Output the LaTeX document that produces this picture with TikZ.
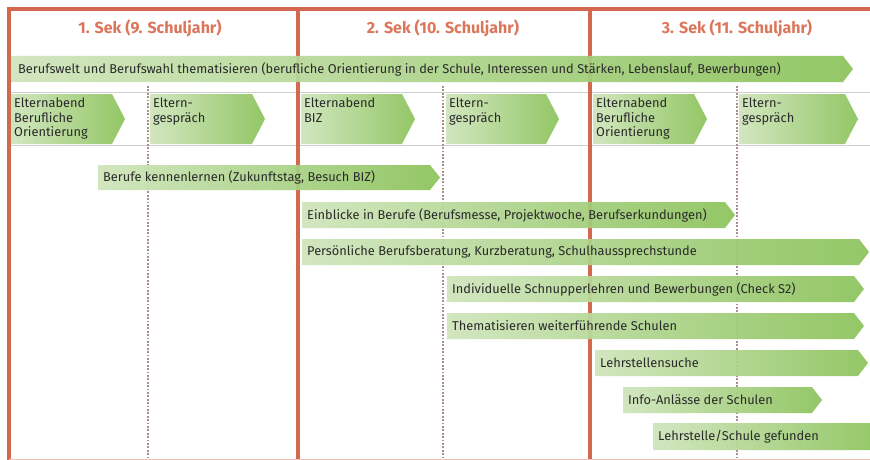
\documentclass[tikz,border=0pt]{standalone}
\usepackage{fontspec}
\setmainfont{Fira Sans}
\definecolor{redline}{HTML}{D2694F}
\definecolor{headred}{HTML}{DB765B}
\definecolor{gpale}{HTML}{CFE5BB}
\definecolor{ggreen}{HTML}{8CC35B}
\definecolor{dotcol}{HTML}{A88F8B}
\definecolor{txt}{HTML}{2A2A2A}
\definecolor{rule}{HTML}{D0D0D0}
\tikzset{
  head/.style={text=headred, font=\fontsize{16}{18}\selectfont\bfseries},
  lbl/.style={text=txt, font=\fontsize{12.8}{14.5}\selectfont, inner sep=0pt},
  mlbl/.style={lbl, align=left},
  yearline/.style={draw=redline, line width=3.8pt},
  dotline/.style={draw=dotcol, line width=2pt, dash pattern=on 1.8pt off 1.6pt},
  thinrule/.style={draw=rule, line width=0.8pt},
  band/.style={left color=gpale, right color=ggreen, fill opacity=0.93}
}
% #1 name, #2 x1, #3 y1, #4 tip x, #5 y2, #6 tip depth, #7 text
\newcommand{\garrow}[7]{%
  \shade[band] (#2,#3) -- ({#4-#6},#3) -- (#4,{(#3+#5)/2}) -- ({#4-#6},#5) -- (#2,#5) -- cycle;
  \node[lbl, anchor=west] (#1) at ({#2+5},{(#3+#5)/2}) {#7};%
}
% chevron with multiline text at top: #1 name, #2 x1, #3 tip x, #4 text
\newcommand{\gchev}[4]{%
  \shade[band] (#2,94) -- ({#3-13},94) -- (#3,119) -- ({#3-13},144) -- (#2,144) -- cycle;
  \node[mlbl, anchor=north west] (#1) at ({#2+3},98) {#4};%
}
\begin{document}
\begin{tikzpicture}[x=1pt,y=-1pt]
\useasboundingbox (0,0) rectangle (870,460);
\fill[white] (0,0) rectangle (870,460);
% thin rules
\draw[thinrule] (9,92.5) -- (870,92.5);
\draw[thinrule] (9,145.5) -- (870,145.5);
% dotted lines
\coordinate (d1t) at (148,86); \coordinate (d1b) at (148,460);
\coordinate (d2t) at (443,86); \coordinate (d2b) at (443,460);
\coordinate (d3t) at (737,86); \coordinate (d3b) at (737,460);
\draw[dotline] (d1t) -- (d1b);
\draw[dotline] (d2t) -- (d2b);
\draw[dotline] (d3t) -- (d3b);
% year lines
\coordinate (tl) at (9,9); \coordinate (tr) at (870,9);
\coordinate (l1b) at (9,460);
\coordinate (l2t) at (298,9); \coordinate (l2b) at (298,460);
\coordinate (l3t) at (590,9); \coordinate (l3b) at (590,460);
\draw[yearline] (tr) -- (tl) -- (l1b);
\draw[yearline] (l2t) -- (l2b);
\draw[yearline] (l3t) -- (l3b);
\draw[draw=redline!40, line width=0.8pt] (9,459.5) -- (870,459.5);
% headers
\node[head] (h1) at (150,28) {1. Sek (9. Schuljahr)};
\node[head] (h2) at (443,28) {2. Sek (10. Schuljahr)};
\node[head] (h3) at (737,28) {3. Sek (11. Schuljahr)};
% main band
\shade[band] (11,56) -- (843,56) -- (853,69) -- (843,82) -- (11,82) -- cycle;
\node[lbl, anchor=west] (b0) at (18,69) {Berufswelt und Berufswahl thematisieren (berufliche Orientierung in der Schule, Interessen und Stärken, Lebenslauf, Bewerbungen)};
% chevrons
\gchev{c1}{11}{125}{Elternabend\\Berufliche\\Orientierung}
\gchev{c2}{150}{265}{Eltern-\\gespräch}
\gchev{c3}{301}{415}{Elternabend\\BIZ}
\gchev{c4}{446}{559}{Eltern-\\gespräch}
\gchev{c5}{593}{707}{Elternabend\\Berufliche\\Orientierung}
\gchev{c6}{739}{858}{Eltern-\\gespräch}
% activity bands
\garrow{a1}{98}{165}{440}{190}{10}{Berufe kennenlernen (Zukunftstag, Besuch BIZ)}
\garrow{a2}{302}{202}{735}{228}{10}{Einblicke in Berufe (Berufsmesse, Projektwoche, Berufserkundungen)}
\garrow{a3}{302}{239}{869}{265}{10}{Persönliche Berufsberatung, Kurzberatung, Schulhaussprechstunde}
\garrow{a4}{447}{276}{864}{302}{10}{Individuelle Schnupperlehren und Bewerbungen (Check S2)}
\garrow{a5}{447}{313}{864}{339}{10}{Thematisieren weiterführende Schulen}
\garrow{a6}{595}{350}{868}{376}{10}{Lehrstellensuche}
\garrow{a7}{623}{387}{822}{413}{10}{Info-Anlässe der Schulen}
\garrow{a8}{653}{423}{882}{450}{10}{Lehrstelle/Schule gefunden}
\end{tikzpicture}
\end{document}
